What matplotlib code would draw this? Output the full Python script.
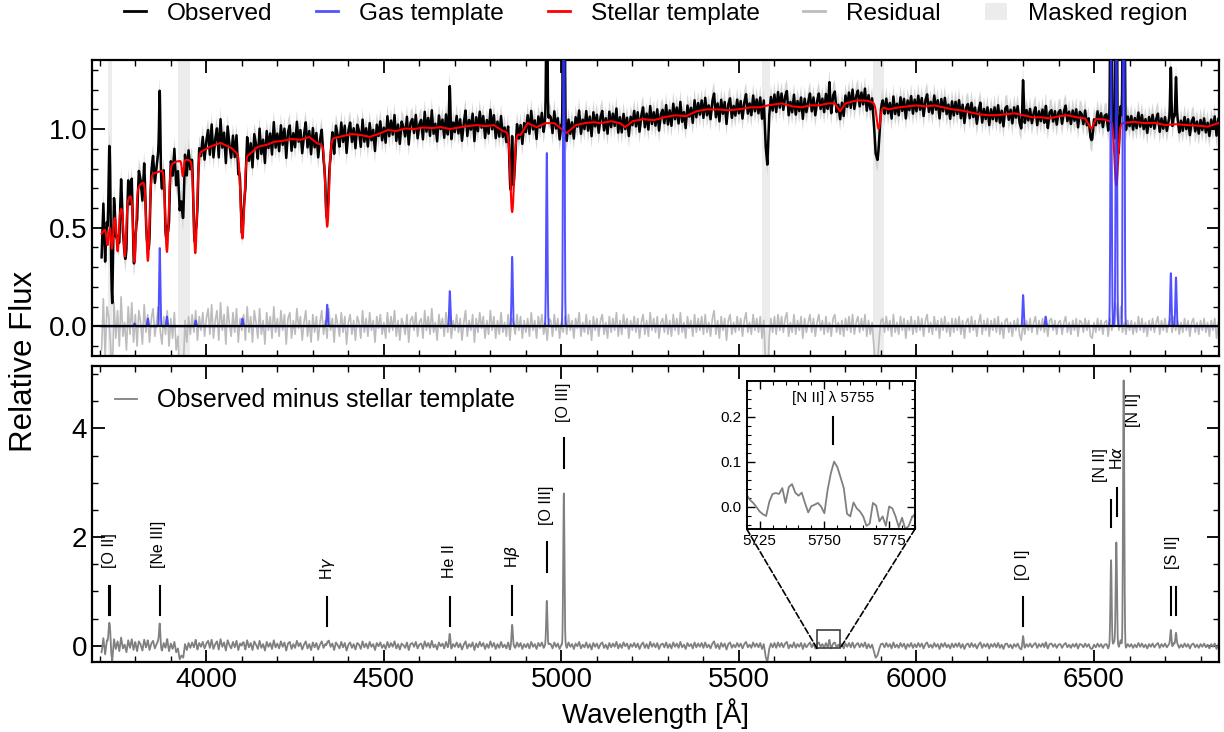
import numpy as np
import matplotlib
matplotlib.use("Agg")
import matplotlib.pyplot as plt
from matplotlib.ticker import MultipleLocator
from matplotlib.patches import Rectangle, Patch, ConnectionPatch
from matplotlib.lines import Line2D

plt.rcParams['font.family'] = ['Liberation Sans', 'DejaVu Sans']
plt.rcParams['mathtext.fontset'] = 'dejavusans'

# ---------------- data ----------------
# stellar continuum knots (upper envelope of the stellar template)
cont_wave = [3705, 3725, 3745, 3765, 3785, 3815, 3850, 3870, 3900, 3915, 3945, 3955,
             3985, 4010, 4040, 4070, 4085, 4120, 4145, 4170, 4190, 4215, 4240, 4265,
             4290, 4310, 4325, 4360, 4385, 4410, 4435, 4460, 4485, 4510, 4535, 4560,
             4585, 4610, 4635, 4660, 4685, 4710, 4735, 4760, 4785, 4810, 4835, 4885,
             4905, 4930, 4955, 4980, 5000, 5015, 5040, 5065, 5090, 5110, 5140, 5165,
             5180, 5200, 5230, 5260, 5290, 5320, 5350, 5380, 5410, 5440, 5470, 5500,
             5530, 5560, 5580, 5600, 5620, 5650, 5675, 5700, 5725, 5750, 5770, 5785,
             5800, 5830, 5855, 5870, 5920, 5950, 5975, 6000, 6025, 6050, 6075, 6100,
             6125, 6150, 6175, 6200, 6225, 6250, 6275, 6300, 6325, 6350, 6375, 6400,
             6425, 6450, 6475, 6493, 6505, 6525, 6545, 6580, 6610, 6640, 6670, 6700,
             6730, 6760, 6790, 6820, 6850]
cont_flux = [0.47, 0.52, 0.57, 0.61, 0.66, 0.72, 0.775, 0.785, 0.82, 0.835, 0.845, 0.84,
             0.885, 0.91, 0.93, 0.905, 0.88, 0.87, 0.91, 0.92, 0.935, 0.94, 0.95, 0.945,
             0.96, 0.93, 0.92, 0.955, 0.965, 0.975, 0.97, 0.96, 0.975, 0.995, 0.99, 1.003,
             1.0, 1.008, 1.005, 1.01, 1.0, 1.008, 1.015, 1.02, 1.015, 1.02, 0.99, 0.97,
             1.03, 1.01, 1.03, 1.03, 1.0, 0.98, 1.02, 1.03, 1.035, 1.03, 1.04, 1.03,
             1.01, 1.04, 1.05, 1.045, 1.06, 1.07, 1.065, 1.09, 1.10, 1.10, 1.095, 1.10,
             1.11, 1.11, 1.12, 1.125, 1.13, 1.115, 1.11, 1.12, 1.12, 1.13, 1.13, 1.09,
             1.13, 1.145, 1.145, 1.14, 1.10, 1.11, 1.115, 1.12, 1.115, 1.12, 1.11, 1.10,
             1.095, 1.085, 1.075, 1.07, 1.07, 1.075, 1.08, 1.07, 1.06, 1.06, 1.054, 1.065,
             1.07, 1.06, 1.054, 1.0, 1.05, 1.05, 1.04, 1.03, 1.037, 1.03, 1.032, 1.02,
             1.025, 1.02, 1.018, 1.012, 1.03]

# stellar absorption lines: centre [A], depth, sigma [A]
abs_center = [3722.0, 3734.4, 3750.2, 3770.6, 3797.9, 3835.4, 3889.1, 3933.7,
              3969.0, 4101.7, 4340.5, 4861.3, 5893.0, 6562.8]
abs_depth = [0.10, 0.15, 0.20, 0.27, 0.36, 0.42, 0.43, 0.08,
             0.49, 0.43, 0.43, 0.40, 0.12, 0.32]
abs_sigma = [3.0, 3.0, 3.2, 3.5, 3.8, 4.2, 4.5, 2.5,
             4.5, 5.0, 5.0, 5.0, 5.0, 5.0]

# emission lines: centre [A], peak, included in the gas template fit (1) or not (0)
em_center = [3726.0, 3728.8, 3797.9, 3835.4, 3868.8, 3889.0, 3970.1, 4101.7,
             4340.5, 4685.7, 4861.3, 4958.9, 5006.8, 5754.6, 6300.3, 6363.8,
             6548.0, 6562.8, 6583.5, 6716.4, 6730.8]
em_peak = [0.30, 0.30, 0.015, 0.04, 0.40, 0.05, 0.03, 0.04,
           0.11, 0.18, 0.355, 0.88, 2.82, 0.09, 0.16, 0.05,
           1.57, 1.83, 4.88, 0.27, 0.25]
em_fitted = [0, 0, 1, 1, 1, 1, 1, 1,
             1, 1, 1, 1, 1, 0, 1, 1,
             1, 1, 1, 1, 1]
em_sigma = 1.7

# residual (observed - model), in hundredths, one value every 5 A from 3705 A
residual_centi = (
    [-12, 14, -16, 10, 5, -8, -28, 12, -6, 8, -10, 15, -5, 2, -12, 10, -4, 12, -8, 6]
    + [-10, 8, 2, -9, 11, -3, 6, -8, 4, 9, -5, 3, 10, -2, -9, 5, -4, 8, -10, 4]
    + [-6, 7, -12, -5, -25, -18, -22, 3, -8, 5, -4, 6, -3, 8, -7, 5, -2, 7, -5, 4]
    + [9, -4, 11, -6, 3, 8, -7, 12, -2, 6, -9, 10, 1, -5, 7, -3, 9, -8, 4, -2]
    + [6, -7, 10, -3, 5, -8, 8, 2, -6, 9, -4, 3, -9, 7, -2, 5, -6, 10, -3, 4]
    + [-5, 8, -2, 6, -9, 4, 7, -6, 3, -4, 9, -1, 5, -7, 2, 8, -5, 3, -8, 6]
    + [-3, 5, -7, 2, 8, -4, 3, -6, 9, -2, 4, -8, 6, 1, -5, 7, -3, 5, -9, 2]
    + [6, -4, 3, -7, 5, 2, -6, 8, -3, 4, -5, 7, -2, 3, -8, 5, -1, 6, -4, 2]
    + [-6, 7, -3, 5, -2, 8, -5, 3, -7, 4, 1, -4, 6, -8, 3, 5, -2, 7, -5, 2]
    + [4, -6, 8, -2, 5, -4, 9, -3, 2, -7, 6, -1, 4, -5, 7, -3, 5, -6, 3, -2]
    + [6, -3, 4, -7, 2, 8, -5, 3, -2, 6, -8, 4, -3, 7, -1, 5, -6, 3, -4, 8]
    + [-2, 5, -6, 3, -4, 7, -3, 2, -5, 6, -7, 4, 1, -4, 6, -2, 5, -6, 3, -3]
    + [4, -5, 7, -2, 3, -6, 5, -1, 6, -4, 2, -7, 4, 3, -5, 6, -2, 4, -6, 2]
    + [-3, 5, -4, 6, -2, 3, -6, 4, -1, 7, -5, 2, -3, 6, -4, 3, -7, 5, -2, 4]
    + [-5, 3, 6, -4, 2, -6, 5, -3, 4, -2, 7, -5, 3, -4, 6, -1, 4, -6, 3, -2]
    + [5, -3, 4, -6, 2, 6, -4, 3, -5, 7, -2, 4, -3, 5, -6, 2, 4, -3, 6, -4]
    + [3, -5, 6, -2, 4, -4, 7, -3, 2, -6, 5, -1, 3, -5, 6, -3, 4, -2, 5, -4]
    + [6, -3, 2, -5, 4, 8, -4, 3, -6, 5, -2, 4, -7, 3, 6, -4, 2, -3, 5, -2]
    + [4, -5, 3, 7, -3, 2, -4, 6, -2, 4, -3, 5, -6, 3, -20, -30, -6, 4, -3, 5]
    + [-4, 6, -2, 5, -3, 4, 7, -5, 2, -3, 6, -4, 3, -2, 5, -6, 4, -3, 2, 6]
    + [-3, 4, -5, 2, 6, -2, 3, -4, 5, -3, 2, -5, 4, 6, -3, 2, -4, 3, -5, 4]
    + [-2, 5, -3, 6, -4, 2, 5, -3, 4, -2, 6, -5, 3, -4, 2, -10, -22, -18, -6, 3]
    + [4, -3, 5, -2, 3, -5, 6, -3, 2, -4, 5, -2, 4, -6, 3, -2, 5, -4, 3, -3]
    + [5, -2, 4, -5, 3, 6, -3, 2, -4, 5, -2, 3, -6, 4, -2, 5, -3, 2, -5, 4]
    + [-3, 4, -2, 5, -4, 3, -6, 2, 4, -3, 5, -2, 3, -5, 2, 6, -4, 3, -2, 4]
    + [-5, 3, -2, 4, -3, 5, -4, 2, -6, 3, 4, -3, 2, -5, 3, -2, 4, -4, -7, 2]
    + [-4, 3, -2, 4, -3, 2, 5, -4, 3, -2, 4, -3, 2, -5, 3, 4, -2, 3, -4, 2]
    + [3, -4, 2, 5, -3, 2, -4, 3, -2, 4, -5, 3, 2, -3, 4, -2, 3, -5, -6, 2]
    + [-3, 4, -2, 3, -4, 2, 3, -5, 4, -2, 5, 12, 6, -2, 10, -3, 2, -4, 3, -2]
    + [3, -4, 2, -3, 5, -2, 4, -3, 2, -5, 3, -2, 4, -3, 2, 5, -4, 3, -2, 4]
    + [-3, 2, 4, -3, 5, -2, 3, -4, 2, -3, 4, -2, 3, -5, 2, 4, -3, 2, -4, 3]
    + [-2, 4, -3, 2, -5, 3, -2, 4, -6, 2]
)
flux_err = 0.06

# masked wavelength ranges
mask_lo = [3722, 3920, 5565, 5878]
mask_hi = [3733, 3953, 5587, 5909]

# inset: observed minus stellar around [N II] 5755
inset_flux = [0.026, 0.015, 0.008, -0.001, -0.011, -0.017, -0.021, 0.011, 0.028, 0.030,
              0.028, 0.041, 0.008, 0.043, 0.050, 0.031, 0.024, 0.031, 0.008, -0.013,
              0.001, 0.004, 0.008, 0.000, -0.015, 0.037, 0.074, 0.100, 0.088, 0.065,
              0.041, -0.016, -0.022, 0.009, -0.004, -0.011, -0.022, -0.043, -0.038, 0.008,
              0.002, -0.033, -0.022, -0.043, 0.000, -0.004, -0.022, -0.046, -0.025, -0.050,
              -0.044, -0.025, -0.016]
inset_start = 5720.0
inset_step = 1.25

# line identifications in the lower panel
line_labels = ['[O II]', '[Ne III]', r'H$\gamma$', 'He II', r'H$\beta$', '[O III]', '[O III]',
               '[O I]', '[N II]', r'H$\alpha$', '[N II]', '[S II]']
label_text_x = [3728, 3866, 4341, 4686, 4862, 4957, 5005, 6299, 6518, 6564, 6610, 6721]
label_text_y = [1.43, 1.43, 1.21, 1.25, 1.43, 2.22, 4.12, 1.21, 3.01, 3.23, 4.02, 1.41]
label_tick_x = [[3726, 3729], [3869], [4341], [4686], [4861], [4959], [5007], [6300],
                [6548], [6564], [], [6716, 6731]]
label_tick_y0 = [0.57, 0.57, 0.37, 0.37, 0.57, 1.36, 3.27, 0.37, 2.18, 2.39, 0, 0.57]
label_tick_y1 = [1.10, 1.10, 0.90, 0.90, 1.10, 1.91, 3.82, 0.89, 2.68, 2.91, 0, 1.09]

# ---------------- build spectra ----------------
wave = np.arange(3705.0, 6850.01, 0.5)
res_wave = 3705.0 + 5.0 * np.arange(len(residual_centi))
resid = np.interp(wave, res_wave, np.array(residual_centi) / 100.0)

stellar = np.interp(wave, cont_wave, cont_flux)
for c, d, s in zip(abs_center, abs_depth, abs_sigma):
    stellar = stellar - d * np.exp(-0.5 * ((wave - c) / s) ** 2)

gas_all = np.zeros_like(wave)
gas_fit = np.zeros_like(wave)
for c, a, f in zip(em_center, em_peak, em_fitted):
    prof = a * np.exp(-0.5 * ((wave - c) / em_sigma) ** 2)
    gas_all += prof
    if f:
        gas_fit += prof

observed = stellar + gas_all + resid
obs_minus_stellar = observed - stellar

inset_wave = inset_start + inset_step * np.arange(len(inset_flux))

# ---------------- figure ----------------
W, H = 1224, 732
fig = plt.figure(figsize=(W / 100, H / 100), dpi=100)
left, right = 92, 1219
ax1 = fig.add_axes([left / W, 1 - 356 / H, (right - left) / W, (356 - 60) / H])
ax2 = fig.add_axes([left / W, 1 - 662 / H, (right - left) / W, (662 - 366) / H])

XMIN, XMAX = 3678, 6852
GREY_BAND = '#d4d4d4'
RES_COL = '#bcbcbc'
MASK_COL = '#ececec'
GAS_COL = '#3333ff'

for lo, hi in zip(mask_lo, mask_hi):
    ax1.axvspan(lo, hi, color=MASK_COL, lw=0, zorder=0)
ax1.fill_between(wave, observed - flux_err, observed + flux_err, color=GREY_BAND, lw=0, zorder=1)
ax1.plot(wave, resid, color=RES_COL, lw=1.2, zorder=2)
ax1.plot(wave, observed, color='k', lw=1.8, zorder=3)
ax1.plot(wave, stellar, color='red', lw=1.5, zorder=4)
ax1.plot(wave, gas_fit, color=GAS_COL, alpha=0.85, lw=1.4, zorder=5)
ax1.axhline(0, color='k', lw=1.6, zorder=6)
ax1.set_xlim(XMIN, XMAX)
ax1.set_ylim(-0.15, 1.35)

ax2.plot(wave, obs_minus_stellar, color='#808080', lw=1.3, label='Observed minus stellar template')
ax2.set_xlim(XMIN, XMAX)
ax2.set_ylim(-0.3, 5.15)

for lab, tx, ty, mx, y0, y1 in zip(line_labels, label_text_x, label_text_y,
                                   label_tick_x, label_tick_y0, label_tick_y1):
    for m in mx:
        ax2.plot([m, m], [y0, y1], color='k', lw=1.5)
    ax2.text(tx, ty, lab, rotation=90, ha='center', va='bottom', fontsize=11.5)

for ax in (ax1, ax2):
    ax.tick_params(which='both', direction='in', top=True, right=True, labelsize=20)
    ax.tick_params(which='major', length=9, width=1.3)
    ax.tick_params(which='minor', length=4.5, width=1.0)
    ax.xaxis.set_major_locator(MultipleLocator(500))
    ax.xaxis.set_minor_locator(MultipleLocator(100))
    for sp in ax.spines.values():
        sp.set_linewidth(1.6)
ax1.yaxis.set_major_locator(MultipleLocator(0.5))
ax1.yaxis.set_minor_locator(MultipleLocator(0.1))
ax1.tick_params(labelbottom=False)
ax2.yaxis.set_major_locator(MultipleLocator(2))
ax2.yaxis.set_minor_locator(MultipleLocator(0.5))
ax2.set_xlabel('Wavelength [Å]', fontsize=20)

fig.text(24 / W, 1 - 361 / H, 'Relative Flux', rotation=90, ha='center', va='center', fontsize=22.5)

handles = [Line2D([], [], color='k', lw=2),
           Line2D([], [], color=GAS_COL, alpha=0.85, lw=2),
           Line2D([], [], color='red', lw=2),
           Line2D([], [], color=RES_COL, lw=2),
           Patch(facecolor=MASK_COL, edgecolor='none')]
labels = ['Observed', 'Gas template', 'Stellar template', 'Residual', 'Masked region']
fig.legend(handles, labels, loc='center', bbox_to_anchor=((left + right) / 2 / W, 1 - 14 / H),
           ncol=5, frameon=False, fontsize=17.6, handlelength=0.9, handletextpad=0.85,
           columnspacing=1.8)

ax2.legend(loc='upper left', frameon=False, fontsize=18, handlelength=0.9, handletextpad=0.8)

# inset
axin = fig.add_axes([746.7 / W, 1 - 529 / H, 168.3 / W, 148.3 / H])
axin.plot(inset_wave, inset_flux, color='#808080', lw=1.3)
axin.set_xlim(5720, 5785)
axin.set_ylim(-0.05, 0.28)
axin.xaxis.set_major_locator(MultipleLocator(25))
axin.xaxis.set_minor_locator(MultipleLocator(5))
axin.yaxis.set_major_locator(MultipleLocator(0.1))
axin.yaxis.set_minor_locator(MultipleLocator(0.02))
axin.tick_params(which='both', direction='in', top=True, right=True, labelsize=11)
axin.tick_params(which='major', length=6, width=1.0)
axin.tick_params(which='minor', length=3, width=0.8)
for sp in axin.spines.values():
    sp.set_linewidth(1.4)
axin.plot([5753.5, 5753.5], [0.14, 0.20], color='k', lw=1.5)
axin.text(5753.5, 0.225, '[N II] λ 5755', ha='center', va='bottom', fontsize=11)

ax2.add_patch(Rectangle((5720, -0.05), 65, 0.33, fill=False, ec='#404040', lw=1.2, zorder=6))
for xa in (5720, 5785):
    con = ConnectionPatch(xyA=(xa, -0.05), coordsA=axin.transData,
                          xyB=(xa, -0.05), coordsB=ax2.transData,
                          ls='--', color='k', lw=1.2)
    fig.add_artist(con)

fig.savefig('out.png', dpi=100, facecolor='white')
